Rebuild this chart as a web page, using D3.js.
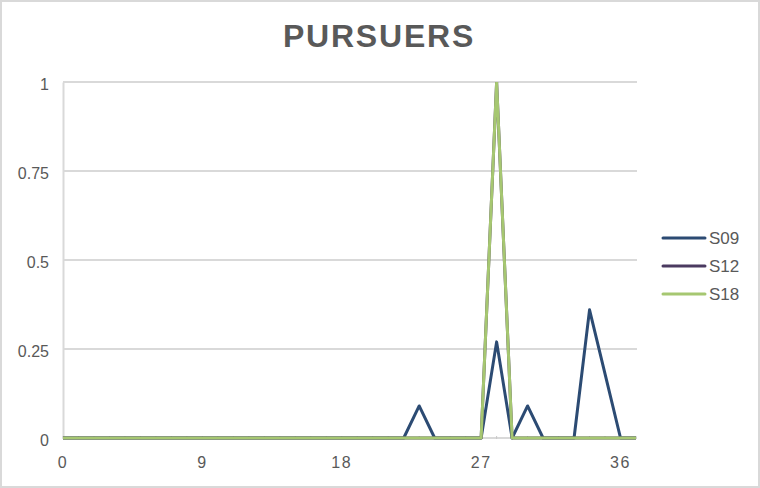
<!DOCTYPE html>
<html>
<head>
<meta charset="utf-8">
<script src="https://cdn.jsdelivr.net/npm/d3@7"></script>
<style>
  html, body { margin: 0; padding: 0; background: #fff; }
  svg { display: block; font-family: "Liberation Sans", Arial, sans-serif; }
</style>
</head>
<body>
<div id="chart"></div>
<script>
// data
const title = "PURSUERS";
const categories = [0, 1, 2, 3, 4, 5, 6, 7, 8, 9, 10, 11, 12, 13, 14, 15, 16, 17, 18, 19,
  20, 21, 22, 23, 24, 25, 26, 27, 28, 29, 30, 31, 32, 33, 34, 35, 36, 37];
const s09 = [0, 0, 0, 0, 0, 0, 0, 0, 0, 0, 0, 0, 0, 0, 0, 0, 0, 0, 0, 0,
  0, 0, 0, 0.09, 0, 0, 0, 0, 0.27, 0, 0.09, 0, 0, 0, 0.36, 0.18, 0, 0];
const s12 = [0, 0, 0, 0, 0, 0, 0, 0, 0, 0, 0, 0, 0, 0, 0, 0, 0, 0, 0, 0,
  0, 0, 0, 0, 0, 0, 0, 0, 1, 0, 0, 0, 0, 0, 0, 0, 0, 0];
const s18 = [0, 0, 0, 0, 0, 0, 0, 0, 0, 0, 0, 0, 0, 0, 0, 0, 0, 0, 0, 0,
  0, 0, 0, 0, 0, 0, 0, 0, 1, 0, 0, 0, 0, 0, 0, 0, 0, 0];
const seriesNames = ["S09", "S12", "S18"];
const yTicks = [0, 0.25, 0.5, 0.75, 1];
const xTicks = [0, 9, 18, 27, 36];

const colors = { S09: "#2c4b73", S12: "#4b3a60", S18: "#a6c771" };
const series = [
  { name: "S09", values: s09 },
  { name: "S12", values: s12 },
  { name: "S18", values: s18 }
];

const W = 760, H = 488;
const margin = { top: 82, right: 124, bottom: 50, left: 63 };
const textColor = "#595959";
const gridColor = "#d9d9d9";

const svg = d3.select("#chart").append("svg")
  .attr("width", W)
  .attr("height", H);

// outer frame
svg.append("rect")
  .attr("x", 1).attr("y", 1)
  .attr("width", W - 2).attr("height", H - 2)
  .attr("fill", "#fff")
  .attr("stroke", "#d9d9d9")
  .attr("stroke-width", 2);

// title
svg.append("text")
  .attr("x", 379)
  .attr("y", 47)
  .attr("text-anchor", "middle")
  .attr("fill", textColor)
  .style("font-size", "32px")
  .style("font-weight", "bold")
  .style("letter-spacing", "1.8px")
  .text(title);

const x = d3.scaleLinear()
  .domain([0, categories.length - 1])
  .range([margin.left, W - margin.right]);

const y = d3.scaleLinear()
  .domain([0, 1])
  .range([H - margin.bottom, margin.top]);

// gridlines
svg.append("g")
  .selectAll("line")
  .data(yTicks.filter(d => d > 0))
  .join("line")
  .attr("x1", x(0)).attr("x2", x(categories.length - 1) + 1)
  .attr("y1", d => y(d)).attr("y2", d => y(d))
  .attr("stroke", gridColor)
  .attr("stroke-width", 2);

// y axis
const yAxis = svg.append("g")
  .attr("transform", `translate(${x(0)},0)`)
  .call(d3.axisLeft(y).tickValues(yTicks).tickSize(0).tickPadding(14)
    .tickFormat(d => d3.format("")(d)));
yAxis.select(".domain").attr("stroke", gridColor).attr("stroke-width", 2);
yAxis.selectAll("text")
  .attr("fill", textColor)
  .style("font-size", "16px")
  .attr("dy", "0.45em");

// x axis
const xAxisG = svg.append("g")
  .attr("transform", `translate(0,${y(0)})`);
xAxisG.append("line")
  .attr("x1", x(0)).attr("x2", x(categories.length - 1) + 1)
  .attr("stroke", gridColor)
  .attr("stroke-width", 2);
xAxisG.selectAll(".minor")
  .data(categories)
  .join("line")
  .attr("class", "minor")
  .attr("x1", d => x(d)).attr("x2", d => x(d))
  .attr("y1", -2).attr("y2", 1)
  .attr("stroke", "#c8c8c8");
xAxisG.selectAll(".lbl")
  .data(xTicks)
  .join("text")
  .attr("class", "lbl")
  .attr("x", d => x(d))
  .attr("y", 30)
  .attr("text-anchor", "middle")
  .attr("fill", textColor)
  .style("font-size", "16px")
  .style("letter-spacing", "1.5px")
  .text(d => d);

// clip top of plot
svg.append("clipPath").attr("id", "plot-clip")
  .append("rect")
  .attr("x", 0).attr("y", y(1))
  .attr("width", W).attr("height", y(0) - y(1) + 10);

const line = d3.line()
  .x((d, i) => x(categories[i]))
  .y(d => y(d));

svg.append("g")
  .attr("clip-path", "url(#plot-clip)")
  .selectAll("path")
  .data(series)
  .join("path")
  .attr("d", d => line(d.values))
  .attr("fill", "none")
  .attr("stroke", d => colors[d.name])
  .attr("stroke-width", 3)
  .attr("stroke-linejoin", "round");

// legend
const legend = svg.append("g")
  .selectAll("g")
  .data(seriesNames)
  .join("g")
  .attr("transform", (d, i) => `translate(663,${238 + i * 28})`);
legend.append("line")
  .attr("x1", 0).attr("x2", 42)
  .attr("stroke", d => colors[d])
  .attr("stroke-width", 3)
  .attr("stroke-linecap", "round");
legend.append("text")
  .attr("x", 46)
  .attr("dy", "0.36em")
  .attr("fill", textColor)
  .style("font-size", "17px")
  .text(d => d);
</script>
</body>
</html>
